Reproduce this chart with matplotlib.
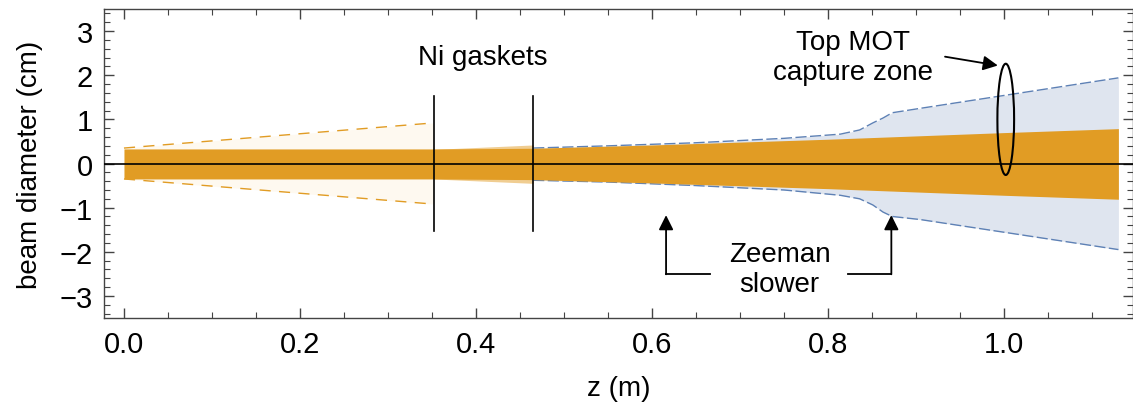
import numpy as np
import matplotlib
matplotlib.use('Agg')
import matplotlib.pyplot as plt
from matplotlib.patches import Ellipse
from matplotlib.ticker import MultipleLocator, FormatStrFormatter

plt.rcParams['font.family'] = ['Liberation Sans', 'DejaVu Sans']

# beam envelopes (z in m, half diameter in cm)
z_cone = [0.0, 0.352]
cone_top = [0.35, 0.92]
cone_bot = [-0.35, -0.92]

z_band = [0.0, 0.352, 0.465, 0.6, 0.8, 1.0, 1.13]
band_top = [0.33, 0.33, 0.345, 0.42, 0.55, 0.70, 0.79]
band_bot = [-0.35, -0.35, -0.365, -0.44, -0.57, -0.72, -0.81]

z_wedge = [0.352, 0.465]
wedge_top = [0.32, 0.42]
wedge_bot = [-0.35, -0.45]

z_blue = [0.465, 0.55, 0.65, 0.75, 0.814, 0.836, 0.851, 0.8625, 0.873, 0.905, 1.13]
blue_top = [0.35, 0.40, 0.47, 0.57, 0.665, 0.76, 0.92, 1.03, 1.15, 1.25, 1.94]
blue_bot = [-0.38, -0.42, -0.50, -0.60, -0.72, -0.80, -0.94, -1.10, -1.20, -1.27, -1.95]

gasket_z = [0.352, 0.465]
gasket_h = 1.52

orange = '#E19C24'
blue = '#5E81B5'

fig = plt.figure(figsize=(11.33, 4.10), dpi=100)
ax = fig.add_axes([104 / 1133, 91 / 410, 1029 / 1133, 309 / 410])

# pale cone before the first gasket
ax.fill_between(z_cone, cone_bot, cone_top, color='#FEF9F0', lw=0, zorder=1)
ax.plot(z_cone, cone_top, color=orange, lw=1, dashes=(8, 6), zorder=2)
ax.plot(z_cone, cone_bot, color=orange, lw=1, dashes=(8, 6), zorder=2)

# blue region after the second gasket
ax.fill_between(z_blue, blue_bot, blue_top, color='#DFE5EF', lw=0, zorder=1)
ax.plot(z_blue, blue_top, color=blue, lw=1, dashes=(8, 2.5), zorder=2)
ax.plot(z_blue, blue_bot, color=blue, lw=1, dashes=(8, 2.5), zorder=2)

# light wedge between gaskets
ax.fill_between(z_wedge, wedge_bot, wedge_top, color='#F0CD91', lw=0, zorder=3)

# main beam
ax.fill_between(z_band, band_bot, band_top, color=orange, lw=0, zorder=4)

ax.axhline(0, color='black', lw=1.2, zorder=5)

for g in gasket_z:
    ax.plot([g, g], [-gasket_h, gasket_h], color='black', lw=1.2, zorder=6)

ax.add_patch(Ellipse((1.002, 1.0), 0.019, 2.52, fill=False, ec='black', lw=1.5, zorder=7))

fs = 20
ax.text(0.408, 2.42, 'Ni gaskets', fontsize=fs, ha='center', va='center')
ax.text(0.828, 2.42, 'Top MOT\ncapture zone', fontsize=fs, ha='center', va='center',
        linespacing=1.2)
ax.annotate('', xy=(0.993, 2.22), xytext=(0.933, 2.42),
            arrowprops=dict(arrowstyle='-|>', color='black', lw=1.3,
                            mutation_scale=22, shrinkA=0, shrinkB=0))
ax.text(0.745, -2.4, 'Zeeman\nslower', fontsize=fs, ha='center', va='center',
        linespacing=1.2)

# Zeeman slower arrows
for x0, x1 in [(0.666, 0.616), (0.823, 0.872)]:
    ax.plot([x0, x1], [-2.51, -2.51], color='black', lw=1.3)
    ax.annotate('', xy=(x1, -1.17), xytext=(x1, -2.51),
                arrowprops=dict(arrowstyle='-|>', color='black', lw=1.3,
                                mutation_scale=22, shrinkA=0, shrinkB=0))

ax.set_xlim(-0.0227, 1.1466)
ax.set_ylim(-3.5, 3.5)
ax.xaxis.set_major_locator(MultipleLocator(0.2))
ax.xaxis.set_minor_locator(MultipleLocator(0.05))
ax.yaxis.set_major_locator(MultipleLocator(1))
ax.yaxis.set_minor_locator(MultipleLocator(0.2))
ax.xaxis.set_major_formatter(FormatStrFormatter('%.1f'))
ax.tick_params(which='both', direction='in', top=True, right=True,
               color='#444444', labelsize=21)
ax.tick_params(which='major', length=7, width=1)
ax.tick_params(which='minor', length=4, width=0.8)
ax.tick_params(axis='x', pad=9)
ax.tick_params(axis='y', pad=8)
for s in ax.spines.values():
    s.set_color('#444444')
    s.set_linewidth(1)

ax.set_xlabel('z (m)', fontsize=20, labelpad=12)
ax.set_ylabel('beam diameter (cm)', fontsize=20, labelpad=12)

fig.savefig('out.png', dpi=100)
